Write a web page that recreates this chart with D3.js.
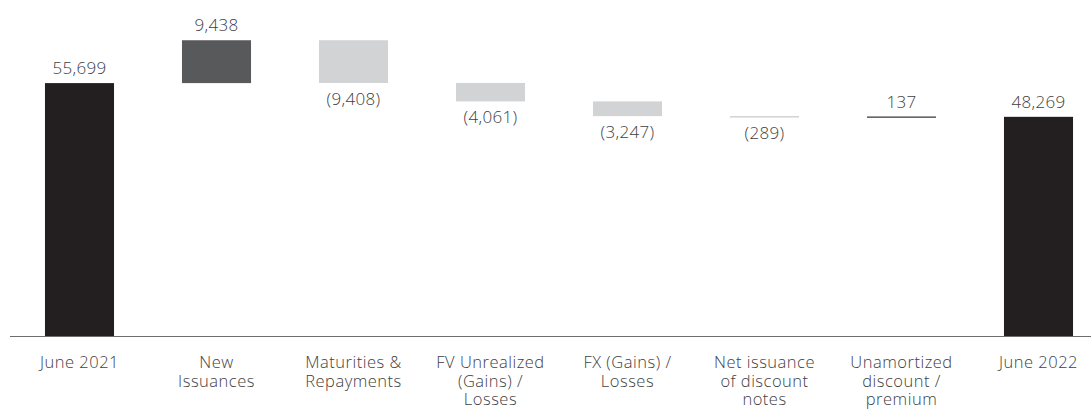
<!DOCTYPE html>
<html><head><meta charset="utf-8">
<script src="https://cdn.jsdelivr.net/npm/d3@7"></script>
<style>
html,body{margin:0;padding:0;background:#fff;}
svg text{font-family:"Open Sans",sans-serif;font-weight:300;fill:#414042;}
</style></head>
<body><svg id="chart" width="1091" height="414"></svg>
<script>
const categories = ["June 2021","New Issuances","Maturities & Repayments","FV Unrealized (Gains) / Losses","FX (Gains) / Losses","Net issuance of discount notes","Unamortized discount / premium","June 2022"];
const categoryLines = [["June 2021"],["New","Issuances"],["Maturities &","Repayments"],["FV Unrealized","(Gains) /","Losses"],["FX (Gains) /","Losses"],["Net issuance","of discount","notes"],["Unamortized","discount /","premium"],["June 2022"]];
const values = [55699, 9438, -9408, -4061, -3247, -289, 137, 48269];
const kinds = ["total","increase","decrease","decrease","decrease","decrease","increase","total"];
const valueLabels = ["55,699","9,438","(9,408)","(4,061)","(3,247)","(289)","137","48,269"];

const colors = {total:"#231f20", increase:"#58595b", decrease:"#d1d3d4"};

const svg = d3.select("#chart");
const baseY = 336;
const x = d3.scaleBand().domain(categories).range([11, 1107]).paddingInner(0.496).paddingOuter(0.248);
const y = d3.scaleLinear().domain([0, 74000]).range([baseY, 0]);

let run = 0;
const bars = values.map((v,i) => {
  let lo, hi;
  if (kinds[i] === "total") { lo = 0; hi = v; run = v; }
  else { const s = run; run = run + v; lo = Math.min(s, run); hi = Math.max(s, run); }
  return {cat: categories[i], lo, hi, v, kind: kinds[i], label: valueLabels[i]};
});

const bw = x.bandwidth();
svg.append("g").selectAll("rect").data(bars).join("rect")
  .attr("x", d => x(d.cat))
  .attr("width", bw)
  .attr("y", d => { const h = y(d.lo) - y(d.hi); return h < 1.5 ? (y(d.lo)+y(d.hi))/2 - 0.75 : y(d.hi); })
  .attr("height", d => Math.max(1.5, y(d.lo) - y(d.hi)))
  .attr("fill", (d,i) => i === 6 ? "#58595b" : colors[d.kind]);

// value labels
svg.append("g").selectAll("text").data(bars).join("text")
  .attr("x", d => x(d.cat) + bw/2)
  .attr("y", d => d.v < 0 ? y(d.lo) + 22 : y(d.hi) - 9)
  .attr("text-anchor","middle")
  .style("font-size","17px")
  .style("letter-spacing","0.3px")
  .text(d => d.label);

// baseline axis
svg.append("line").attr("x1", 10).attr("x2", 1091).attr("y1", baseY + 0.5).attr("y2", baseY + 0.5)
  .attr("stroke","#6d6e70").attr("stroke-width",1);

// category labels (one text per line)
const g = svg.append("g");
categories.forEach((c,i) => {
  categoryLines[i].forEach((ln,j) => {
    g.append("text")
      .attr("x", x(c) + bw/2)
      .attr("y", 368 + j*18.5)
      .attr("text-anchor","middle")
      .style("font-size","16.5px")
      .style("letter-spacing","0.5px")
      .text(ln);
  });
});
</script></body></html>
